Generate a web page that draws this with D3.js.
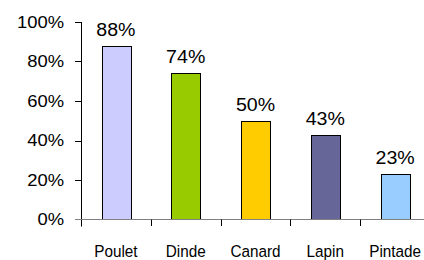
<!doctype html>
<html lang="en">
<head>
    <meta charset="utf-8">
    <title>Viandes</title>
    <script src="https://cdnjs.cloudflare.com/ajax/libs/d3/7.8.5/d3.min.js" type="text/JavaScript"></script>
    <style>
        body { margin: 0; background: #fff; }
    </style>
</head>
<body>
<script>

    // data
    const categories = ["Poulet", "Dinde", "Canard", "Lapin", "Pintade"];
    const values = [0.88, 0.74, 0.50, 0.43, 0.23];
    const colors = ["#ccccff", "#99cc00", "#ffcc00", "#666699", "#99ccff"];
    const yTicks = [0, 0.2, 0.4, 0.6, 0.8, 1];

    const width = 424, height = 260;
    const stretch = 1.12;   // numbers in the picture are a bit wider than normal

    const x = d3.scaleBand()
        .domain(categories)
        .range([81, 430])
        .paddingInner(0.59)
        .paddingOuter(0.295);

    const y = d3.scaleLinear()
        .domain([0, 1])
        .range([219.5, 22]);

    const pct = d3.format(".0%");

    const svg = d3.select("body").append("svg")
        .attr("width", width)
        .attr("height", height)
        .attr("font-family", "'Liberation Sans', Arial, sans-serif")
        .attr("fill", "#000");

    // y axis
    svg.append("line")
        .attr("x1", 81.5).attr("x2", 81.5)
        .attr("y1", y(1)).attr("y2", y(0) + 7)
        .attr("stroke", "#000");

    svg.selectAll(".ytick")
        .data(yTicks.filter(d => d > 0))
        .join("line")
        .attr("x1", 75).attr("x2", 81.5)
        .attr("y1", d => Math.round(y(d)) + 0.5)
        .attr("y2", d => Math.round(y(d)) + 0.5)
        .attr("stroke", "#000");

    svg.selectAll(".ylab")
        .data(yTicks)
        .join("text")
        .attr("transform", d => `translate(64,${y(d)}) scale(1.15,1)`)
        .attr("dy", "0.36em")
        .attr("text-anchor", "end")
        .attr("font-size", 16)
        .text(pct);

    // bars
    svg.selectAll(".bar")
        .data(values)
        .join("rect")
        .attr("x", (d, i) => Math.round(x(categories[i])) + 0.5)
        .attr("y", d => Math.round(y(d)) + 0.5)
        .attr("width", Math.round(x.bandwidth()))
        .attr("height", d => y(0) - Math.round(y(d)) - 0.5)
        .attr("fill", (d, i) => colors[i])
        .attr("stroke", "#000");

    // x baseline and ticks between categories
    svg.append("line")
        .attr("x1", 75).attr("x2", width)
        .attr("y1", 219.5).attr("y2", 219.5)
        .attr("stroke", "#808080");

    svg.selectAll(".xtick")
        .data(categories.slice(1))
        .join("line")
        .attr("x1", d => Math.round(x(d) - x.step() * x.paddingInner() / 2) + 0.5)
        .attr("x2", d => Math.round(x(d) - x.step() * x.paddingInner() / 2) + 0.5)
        .attr("y1", 219.5).attr("y2", 226)
        .attr("stroke", "#000");

    // value labels
    svg.selectAll(".val")
        .data(values)
        .join("text")
        .attr("transform", (d, i) => `translate(${x(categories[i]) + x.bandwidth() / 2},${y(d) - 10}) scale(${stretch},1)`)
        .attr("text-anchor", "middle")
        .attr("font-size", 17.5)
        .text(pct);

    // category labels (narrow-looking in the picture)
    svg.selectAll(".cat")
        .data(categories)
        .join("text")
        .attr("transform", d => `translate(${x(d) + x.bandwidth() / 2},256.5) scale(0.9,1)`)
        .attr("text-anchor", "middle")
        .attr("font-size", 17)
        .text(d => d);

</script>
</body>
</html>
